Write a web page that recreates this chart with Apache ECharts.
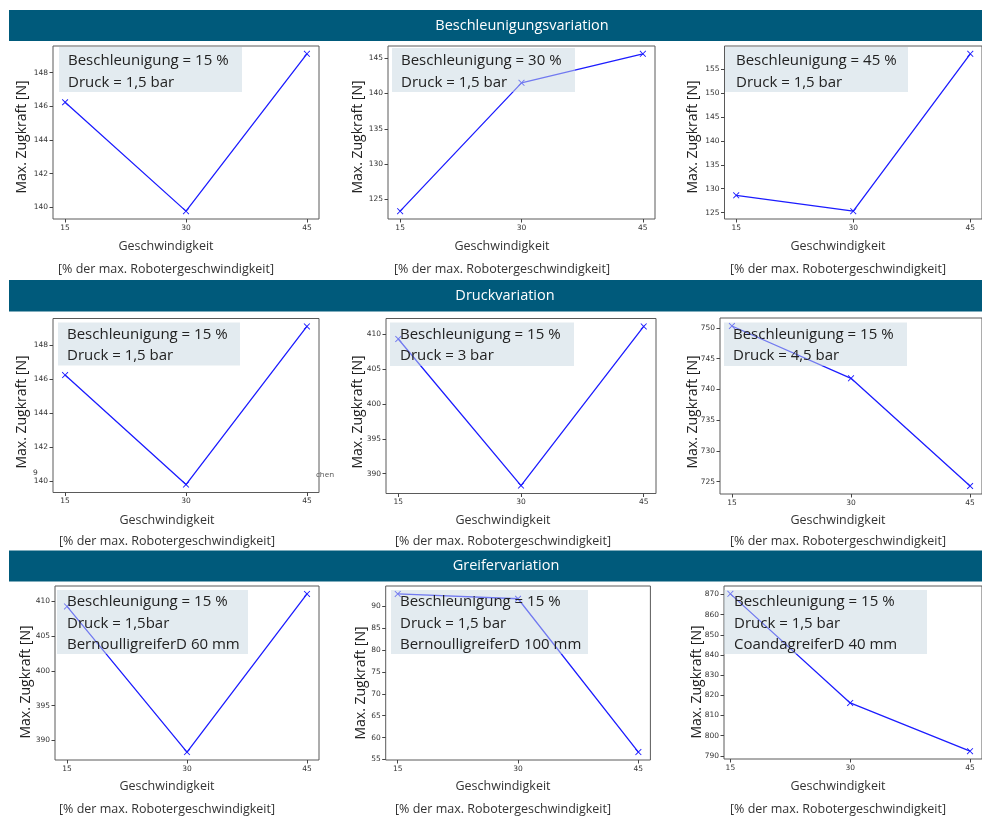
<!DOCTYPE html>
<html><head><meta charset="utf-8">
<script src="https://cdn.jsdelivr.net/npm/echarts@6/dist/echarts.min.js"></script>
<style>html,body{margin:0;padding:0;background:#fff}#c{width:982px;height:816px}</style>
</head><body><div id="c"></div>
<script>
// ---- data ----
const speeds = [15, 30, 45];
const sectionTitles = ['Beschleunigungsvariation', 'Druckvariation', 'Greifervariation'];
const beschl15 = [146.24, 139.78, 149.11];
const beschl30 = [123.35, 141.5, 145.6];
const beschl45 = [128.6, 125.3, 158.2];
const druck15 = [146.24, 139.78, 149.11];
const druck3 = [409.3, 388.3, 411.1];
const druck45 = [750.3, 741.8, 724.3];
const greifer60 = [409.3, 388.3, 411.1];
const greifer100 = [92.8, 91.7, 56.7];
const greifer40 = [870.3, 816.2, 792.3];
const ticksA = [140, 142, 144, 146, 148];
const ticksB = [125, 130, 135, 140, 145];
const ticksC = [125, 130, 135, 140, 145, 150, 155];
const ticksE = [390, 395, 400, 405, 410];
const ticksF = [725, 730, 735, 740, 745, 750];
const ticksH = [55, 60, 65, 70, 75, 80, 85, 90];
const ticksI = [790, 800, 810, 820, 830, 840, 850, 860, 870];
const notes = [
  ['Beschleunigung = 15 %', 'Druck = 1,5 bar'],
  ['Beschleunigung = 30 %', 'Druck = 1,5 bar'],
  ['Beschleunigung = 45 %', 'Druck = 1,5 bar'],
  ['Beschleunigung = 15 %', 'Druck = 1,5 bar'],
  ['Beschleunigung = 15 %', 'Druck = 3 bar'],
  ['Beschleunigung = 15 %', 'Druck = 4,5 bar'],
  ['Beschleunigung = 15 %', 'Druck = 1,5bar', 'BernoulligreiferD 60 mm'],
  ['Beschleunigung = 15 %', 'Druck = 1,5 bar', 'BernoulligreiferD 100 mm'],
  ['Beschleunigung = 15 %', 'Druck = 1,5 bar', 'CoandagreiferD 40 mm']
];
const yTitle = 'Max. Zugkraft [N]';
const xTitle1 = 'Geschwindigkeit';
const xTitle2 = '[% der max. Robotergeschwindigkeit]';

// ---- layout ----
const values = [beschl15, beschl30, beschl45, druck15, druck3, druck45, greifer60, greifer100, greifer40];
const ticks = [ticksA, ticksB, ticksC, ticksA, ticksE, ticksF, ticksE, ticksH, ticksI];
const layout = [
  {g:[53,46,266,173], xmin:13.5, box:[59,47,183,45], tx:68, ty:[60.7,82.7], yl:[22,137], xc:166, xy:[246.5,269]},
  {g:[388,46,267,173], xmin:13.5, box:[392,48,183,44], tx:401, ty:[60.7,83], yl:[358,137], xc:502, xy:[246.5,269]},
  {g:[724.5,46,266,173], xmin:13.5, box:[725,47,183,45], tx:736, ty:[60.7,83], yl:[693,137], xc:838, xy:[246.5,269]},
  {g:[53,318.5,266,174], xmin:13.5, box:[58,322.5,182,43], tx:67, ty:[335,356], yl:[22.5,412], xc:167, xy:[520,541]},
  {g:[386,318.5,270,175], xmin:13.5, box:[390,322.5,184,43.5], tx:400, ty:[335,356], yl:[358,412], xc:503, xy:[520,541]},
  {g:[720,318,270,176], xmin:13.5, box:[724,322.5,183,43.5], tx:733, ty:[335,356], yl:[693,412], xc:838, xy:[520,541]},
  {g:[55,586,264,174], xmin:13.5, box:[57,590,191,64], tx:67, ty:[601.7,623.3,645], yl:[26,682], xc:167, xy:[786.5,809]},
  {g:[385.7,586,264.7,174], xmin:13.5, box:[391,590,197,64], tx:400, ty:[601.7,623.3,645], yl:[361.5,683], xc:503, xy:[786.5,809]},
  {g:[724,586,258,173], xmin:14.2, box:[724,590,203,64], tx:734, ty:[601.7,623.3,645], yl:[697,682], xc:838, xy:[786.5,809]}
];
const bands = [
  {y:10, h:31, tx:522, ty:26},
  {y:280, h:31.5, tx:505, ty:296},
  {y:550.5, h:31, tx:506, ty:566}
];

const XSYM = 'path://M0,1L1,0L5,4L9,0L10,1L6,5L10,9L9,10L5,6L1,10L0,9L4,5Z';
const LINE = '#1c1cff';
const FONT = '"Open Sans", "Noto Sans", sans-serif';

const grids = [], xAxes = [], yAxes = [], series = [], graphics = [];
values.forEach((vals, i) => {
  const L = layout[i];
  const dmin = Math.min(...vals), dmax = Math.max(...vals), r = dmax - dmin;
  grids.push({left:L.g[0], top:L.g[1], width:L.g[2], height:L.g[3], show:true, borderColor:'#5a5a5a', borderWidth:1, backgroundColor:'#fff'});
  xAxes.push({type:'value', gridIndex:i, min:L.xmin, max:46.5,
    axisLine:{show:false}, splitLine:{show:false},
    axisTick:{show:true, length:3.5, customValues:speeds, lineStyle:{color:'#444'}},
    axisLabel:{customValues:speeds, fontSize:7.5, color:'#333', margin:5, fontFamily:'"DejaVu Sans", sans-serif'}});
  yAxes.push({type:'value', gridIndex:i, min:dmin - 0.05*r, max:dmax + 0.05*r,
    axisLine:{show:false}, splitLine:{show:false},
    axisTick:{show:true, length:3.5, customValues:ticks[i], lineStyle:{color:'#444'}},
    axisLabel:{customValues:ticks[i], fontSize:7.5, color:'#333', margin:5, fontFamily:'"DejaVu Sans", sans-serif'}});
  series.push({type:'line', xAxisIndex:i, yAxisIndex:i, data:speeds.map((s,j)=>[s, vals[j]]),
    symbol:XSYM, symbolSize:6.5, lineStyle:{color:LINE, width:1.3}, itemStyle:{color:LINE},
    animation:false, z:2});
  // annotation box (semi-transparent, above the line)
  graphics.push({type:'rect', z:100, shape:{x:L.box[0], y:L.box[1], width:L.box[2], height:L.box[3]},
    style:{fill:'rgba(199,215,226,0.5)'}});
  notes[i].forEach((t, k) => graphics.push({type:'text', z:101, x:L.tx, y:L.ty[k],
    style:{text:t, fill:'#222', font:'15px ' + FONT, textVerticalAlign:'middle', textAlign:'left'}}));
  graphics.push({type:'text', z:101, x:L.yl[0], y:L.yl[1], rotation:Math.PI/2,
    style:{text:yTitle, fill:'#222', font:'14px ' + FONT, textAlign:'center', textVerticalAlign:'middle'}});
  graphics.push({type:'text', z:101, x:L.xc, y:L.xy[0],
    style:{text:xTitle1, fill:'#333', font:'12.5px ' + FONT, textAlign:'center', textVerticalAlign:'middle'}});
  graphics.push({type:'text', z:101, x:L.xc, y:L.xy[1],
    style:{text:xTitle2, fill:'#333', font:'12.5px ' + FONT, textAlign:'center', textVerticalAlign:'middle'}});
});
bands.forEach((b, i) => {
  graphics.push({type:'rect', z:90, shape:{x:9, y:b.y, width:973, height:b.h}, style:{fill:'#005a7b'}});
  graphics.push({type:'text', z:91, x:b.tx, y:b.ty,
    style:{text:sectionTitles[i], fill:'#fff', font:'14.5px ' + FONT, textAlign:'center', textVerticalAlign:'middle'}});
});
// small stray label fragments visible in the reference
graphics.push({type:'text', z:101, x:35.5, y:473, style:{text:'9', fill:'#333', font:'7.5px "DejaVu Sans"', textAlign:'center', textVerticalAlign:'middle'}});
graphics.push({type:'text', z:101, x:316, y:475, style:{text:'chen', fill:'#555', font:'8px ' + FONT, textAlign:'left', textVerticalAlign:'middle'}});

const chart = echarts.init(document.getElementById('c'), null, {renderer:'canvas'});
chart.setOption({animation:false, backgroundColor:'#fff', grid:grids, xAxis:xAxes, yAxis:yAxes, series:series, graphic:{elements:graphics}});
</script></body></html>
